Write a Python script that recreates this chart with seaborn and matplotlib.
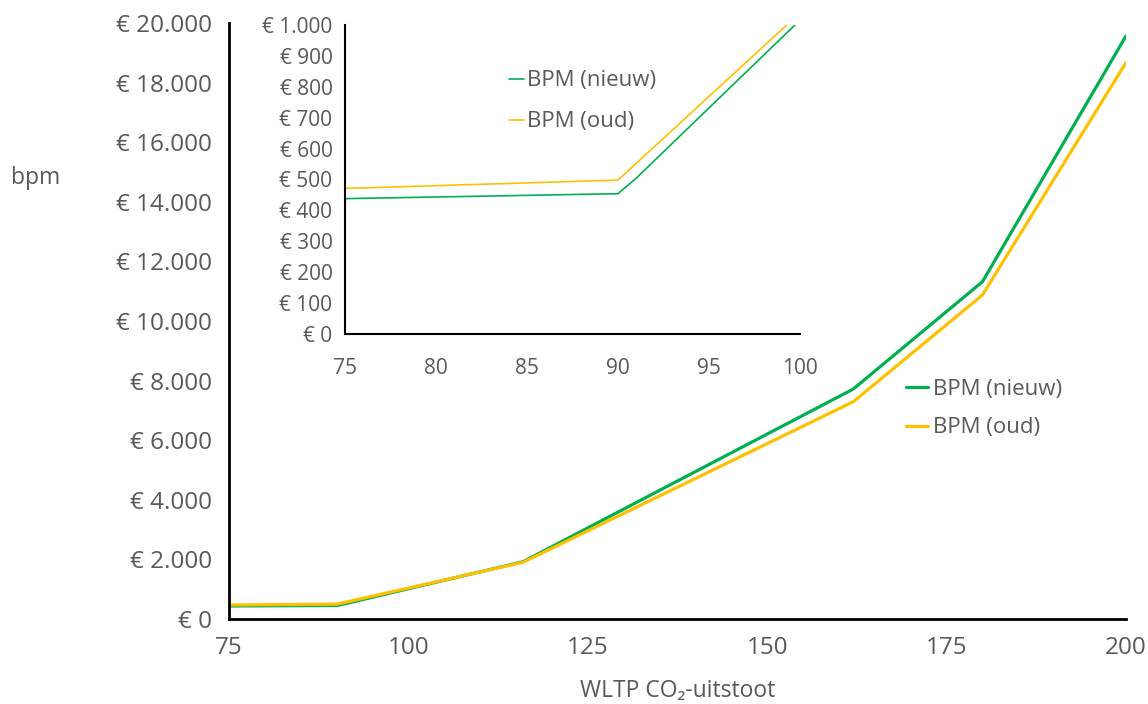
import pandas as pd
import matplotlib
matplotlib.use('Agg')
import matplotlib.pyplot as plt
import seaborn as sns
from matplotlib.ticker import FuncFormatter, MultipleLocator

# values
co2_nieuw = [75, 90, 91, 116, 162, 180, 200]
bpm_nieuw = [438, 454, 504, 1925, 7718, 11319, 19564]
co2_oud = [75, 90, 116, 162, 180, 200]
bpm_oud = [471, 498, 1905, 7292, 10872, 18668]

series_names = ["BPM (nieuw)", "BPM (oud)"]
series_colors = ["#00B050", "#FFC000"]

df = pd.concat([
    pd.DataFrame({"co2": co2_nieuw, "bpm": bpm_nieuw, "serie": series_names[0]}),
    pd.DataFrame({"co2": co2_oud, "bpm": bpm_oud, "serie": series_names[1]}),
])
palette = dict(zip(series_names, series_colors))

sns.set_style("white")
plt.rcParams['font.family'] = ['Open Sans', 'DejaVu Sans']
grey = "#595959"


def euro(v, pos):
    return "€ " + f"{v:,.0f}".replace(",", ".")


fig = plt.figure(figsize=(11.48, 7.04), dpi=100)

# main chart
ax = fig.add_axes([0.1995, 0.1207, 0.7813, 0.8466])
sns.lineplot(data=df, x="co2", y="bpm", hue="serie", palette=palette,
             linewidth=2.3, ax=ax, sort=False, estimator=None)
ax.set_xlim(75, 200)
ax.set_ylim(0, 20000)
ax.xaxis.set_major_locator(MultipleLocator(25))
ax.yaxis.set_major_locator(MultipleLocator(2000))
ax.yaxis.set_major_formatter(FuncFormatter(euro))
sns.despine(ax=ax)
for s in ["left", "bottom"]:
    ax.spines[s].set_color("black")
    ax.spines[s].set_linewidth(2)
ax.tick_params(axis="both", direction="out", length=7, width=2, color="black",
               labelsize=17.5, labelcolor=grey, pad=5)
ax.set_xlabel("WLTP CO₂-uitstoot", fontsize=16.5, color=grey, labelpad=14)
ax.set_ylabel("bpm", fontsize=16.5, color=grey, rotation=0, va="center")
ax.yaxis.set_label_coords(-0.216, 0.74)
leg = ax.legend(loc="upper left", bbox_to_anchor=(0.732, 0.437), frameon=False,
                fontsize=16, handlelength=1.0, handletextpad=0.25, labelspacing=0.8)
for t in leg.get_texts():
    t.set_color(grey)

# inset zoom on 75-100
ins = fig.add_axes([0.3005, 0.5256, 0.3963, 0.4389])
ins.set_facecolor("white")
sns.lineplot(data=df, x="co2", y="bpm", hue="serie", palette=palette,
             linewidth=1.2, ax=ins, sort=False, estimator=None)
ins.set_xlim(75, 100)
ins.set_ylim(0, 1000)
ins.xaxis.set_major_locator(MultipleLocator(5))
ins.yaxis.set_major_locator(MultipleLocator(100))
ins.yaxis.set_major_formatter(FuncFormatter(euro))
sns.despine(ax=ins)
for s in ["left", "bottom"]:
    ins.spines[s].set_color("black")
    ins.spines[s].set_linewidth(1.5)
ins.tick_params(axis="both", direction="out", length=6, width=1.5, color="black",
                labelsize=15, labelcolor=grey, pad=3)
ins.tick_params(axis="x", pad=11)
ins.set_xlabel("")
ins.set_ylabel("")
leg2 = ins.legend(loc="upper left", bbox_to_anchor=(0.316, 0.918), frameon=False,
                  fontsize=16, handlelength=0.7, handletextpad=0.1, labelspacing=0.9)
for t in leg2.get_texts():
    t.set_color(grey)

fig.savefig("out.png", dpi=100)
plt.close(fig)
